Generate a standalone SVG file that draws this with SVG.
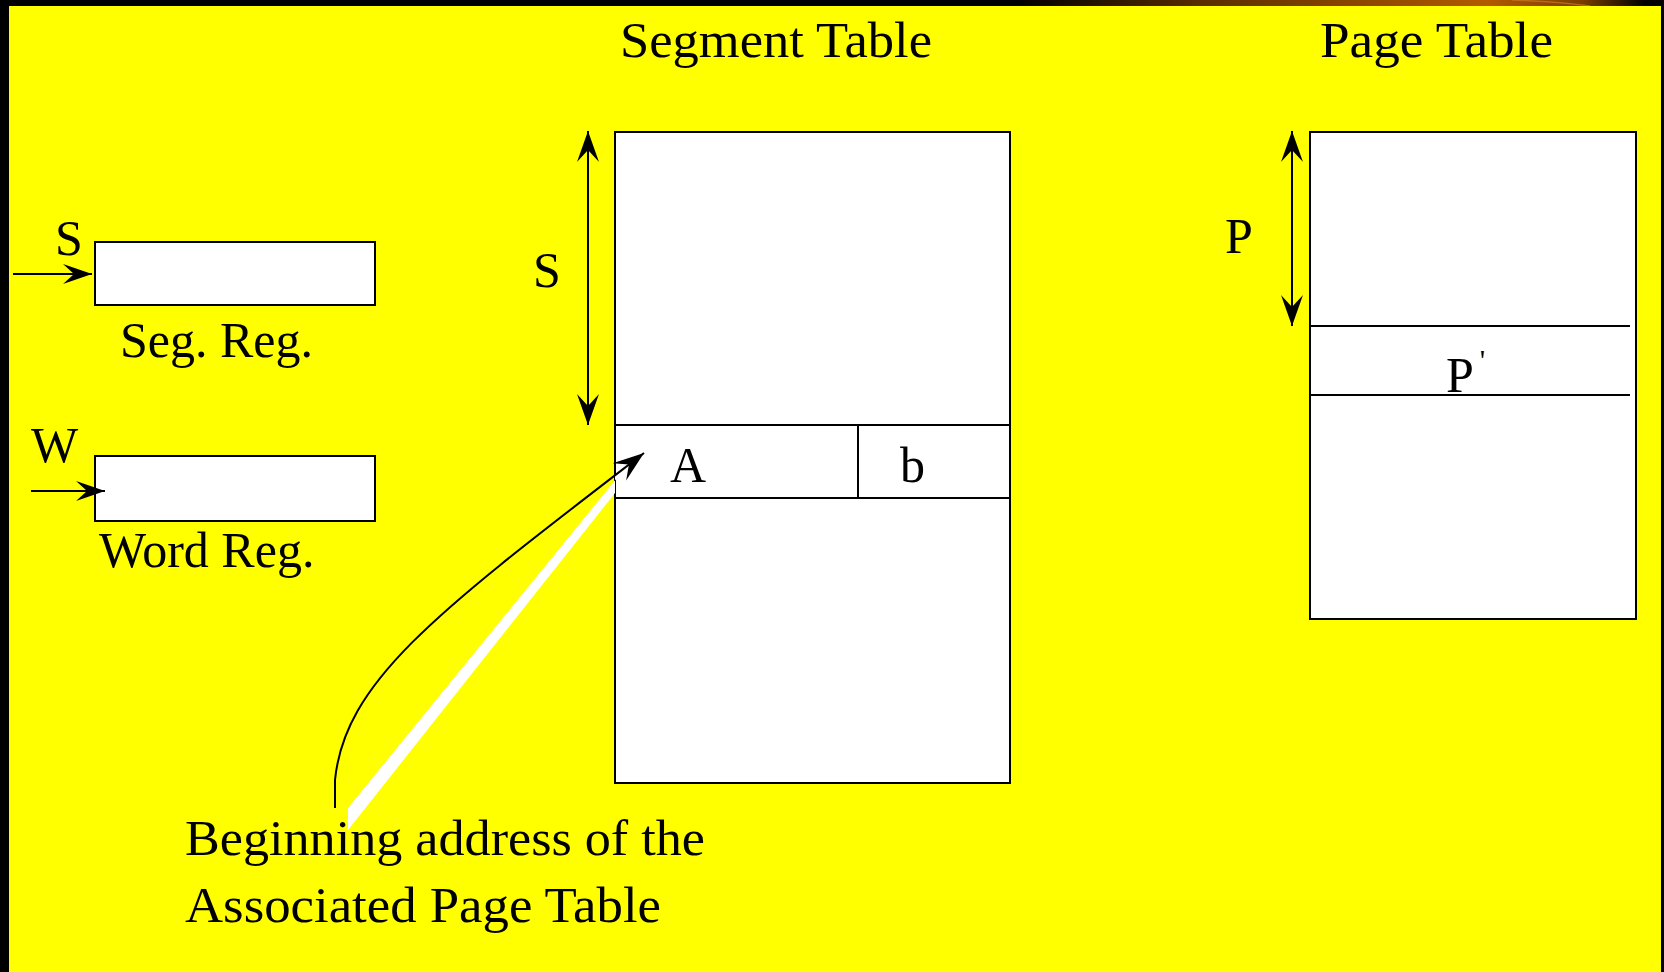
<svg xmlns="http://www.w3.org/2000/svg" width="1664" height="972" viewBox="0 0 1664 972">
<style>
.t{font-family:"Liberation Serif","Times New Roman",serif;font-size:50px;fill:#000}
.box{fill:#fff;stroke:#000;stroke-width:2}
.ln{stroke:#000;stroke-width:2;fill:none}
</style>
<defs>
<linearGradient id="band" x1="1015" y1="0" x2="1645" y2="0" gradientUnits="userSpaceOnUse">
<stop offset="0" stop-color="#000"/>
<stop offset="0.3" stop-color="#5a2e00"/>
<stop offset="0.75" stop-color="#b35a00"/>
<stop offset="0.9" stop-color="#7a3d00"/>
<stop offset="1" stop-color="#000"/>
</linearGradient>
<marker id="ah" markerUnits="userSpaceOnUse" viewBox="-32 -12 33 24" refX="0" refY="0" markerWidth="33" markerHeight="24" orient="auto-start-reverse">
<path d="M0,0 L-31,-11 L-19,0 L-31,11 Z" fill="#000"/>
</marker>
<marker id="ahs" markerUnits="userSpaceOnUse" viewBox="-32 -12 33 24" refX="0" refY="0" markerWidth="33" markerHeight="24" orient="auto">
<path d="M0,0 L-29,-10 L-18,0 L-29,10 Z" fill="#000"/>
</marker>
</defs>
<rect x="0" y="0" width="1664" height="972" fill="#000"/>
<rect x="1015" y="0" width="630" height="6" fill="url(#band)"/>
<path d="M1512,0 Q1560,2 1590,6" stroke="#c9792a" stroke-width="1.5" fill="none" opacity="0.7"/>
<rect x="9" y="6" width="1652" height="966" fill="#ffff00"/>

<g id="title-segment"><text class="t" x="620" y="57" textLength="312" lengthAdjust="spacingAndGlyphs">Segment Table</text></g>
<g id="title-page"><text class="t" x="1320" y="57" textLength="233" lengthAdjust="spacingAndGlyphs">Page Table</text></g>

<g id="seg-reg">
<rect class="box" x="95" y="242" width="280" height="63"/>
<text class="t" x="55" y="255">S</text>
<text class="t" x="120" y="357">Seg. Reg.</text>
</g>
<g id="word-reg">
<rect class="box" x="95" y="456" width="280" height="65"/>
<text class="t" x="31" y="462">W</text>
<text class="t" x="99" y="567">Word Reg.</text>
</g>

<g id="segment-table">
<rect class="box" x="615" y="132" width="395" height="651"/>
<line class="ln" x1="615" y1="425" x2="1010" y2="425"/>
<line class="ln" x1="615" y1="498" x2="1010" y2="498"/>
<line class="ln" x1="858" y1="425" x2="858" y2="498"/>
<text class="t" x="670" y="482">A</text>
<text class="t" x="900" y="482">b</text>
<text class="t" x="533" y="287">S</text>
</g>

<g id="page-table">
<rect class="box" x="1310" y="132" width="326" height="487"/>
<line class="ln" x1="1310" y1="326" x2="1630" y2="326"/>
<line class="ln" x1="1310" y1="395" x2="1630" y2="395"/>
<text class="t" x="1446" y="392">P<tspan font-size="30" dx="6" dy="-22">'</tspan></text>
<text class="t" x="1225" y="253">P</text>
</g>

<g id="label-beginning">
<text class="t" x="185" y="855" textLength="520" lengthAdjust="spacingAndGlyphs">Beginning address of the</text>
<text class="t" x="185" y="922" textLength="476" lengthAdjust="spacingAndGlyphs">Associated Page Table</text>
</g>

<g id="connectors">
<line class="ln" x1="13" y1="274" x2="92" y2="274" marker-end="url(#ahs)"/>
<line class="ln" x1="31" y1="491" x2="105" y2="491" marker-end="url(#ahs)"/>
<line class="ln" x1="588" y1="131" x2="588" y2="425" marker-start="url(#ah)" marker-end="url(#ah)"/>
<line class="ln" x1="1292" y1="131" x2="1292" y2="326" marker-start="url(#ah)" marker-end="url(#ah)"/>
<polygon points="348,808 630,462 615,476 615,493 348,830" fill="#fff"/>
<path class="ln" d="M335,808 L335,780 C345,680 440,610 644,453" marker-end="url(#ah)"/>
</g>
</svg>
